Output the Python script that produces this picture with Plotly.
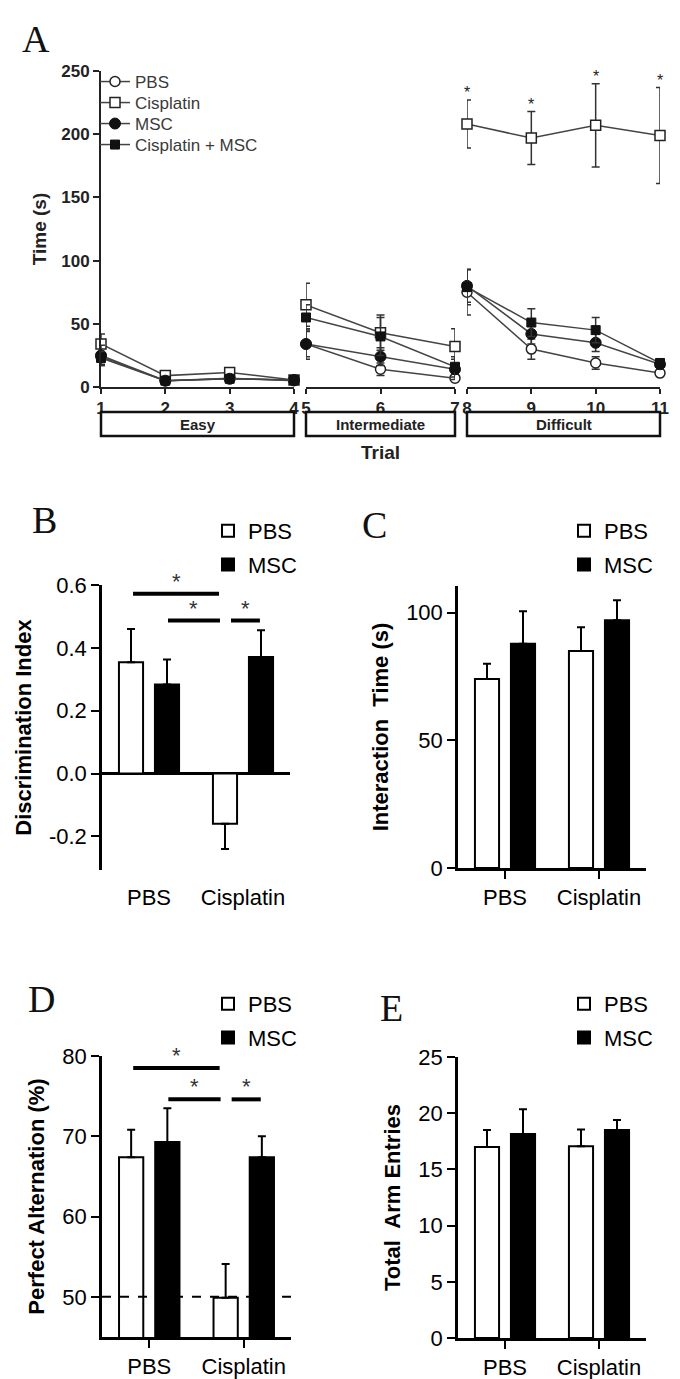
import plotly.graph_objects as go

W, H = 680, 1379


def fx(px):
    return px / W


def fy(py):
    return 1 - py / H


SANS = "Liberation Sans, Arial, sans-serif"
SERIF = "Liberation Serif, Times New Roman, serif"

# ---------------- Panel A data ----------------
trials = [1, 2, 3, 4, 5, 6, 7, 8, 9, 10, 11]
segment_trials = [[1, 2, 3, 4], [5, 6, 7], [8, 9, 10, 11]]
segment_names = ["Easy", "Intermediate", "Difficult"]
pbs_time = [24, 5, 7, 5, 34, 14, 7, 75, 30, 19, 11]
pbs_sem = [7, 2, 2, 1, 10, 5, 2, 18, 8, 5, 2]
cis_time = [34, 9, 11.5, 5.5, 65, 43, 32, 208, 197, 207, 199]
cis_sem = [8, 2, 2, 1, 17, 14, 14, 19, 21, 33, 38]
msc_time = [25, 5, 6.5, 5.5, 34, 24, 14, 80, 42, 35, 18]
msc_sem = [8, 1.5, 2, 1, 12, 7, 8, 13, 8, 7, 3]
cismsc_time = [23, 5, 6.5, 5.5, 55, 40, 16, 79, 51, 45, 19]
cismsc_sem = [5, 1.5, 2, 1, 10, 15, 8, 14, 11, 10, 3]
star_trials = [8, 9, 10, 11]
a_yticks = [0, 50, 100, 150, 200, 250]
a_ymax = 250

# ---------------- Bar panels data ----------------
groups = ["PBS", "Cisplatin"]
disc_pbs = [0.354, -0.16]
disc_pbs_sem = [0.106, 0.08]
disc_msc = [0.283, 0.371]
disc_msc_sem = [0.08, 0.085]
b_ticks = [-0.2, 0.0, 0.2, 0.4, 0.6]
b_ticktext = ["-0.2", "0.0", "0.2", "0.4", "0.6"]

inter_pbs = [74.0, 85.0]
inter_pbs_sem = [6.0, 9.3]
inter_msc = [87.8, 97.0]
inter_msc_sem = [12.7, 7.8]

alt_pbs = [67.4, 49.9]
alt_pbs_sem = [3.4, 4.2]
alt_msc = [69.3, 67.4]
alt_msc_sem = [4.2, 2.6]
chance_level = 50

arm_pbs = [17.0, 17.05]
arm_pbs_sem = [1.5, 1.5]
arm_msc = [18.15, 18.5]
arm_msc_sem = [2.2, 0.9]

fig = go.Figure()

# ---------------- Panel A traces ----------------
series_A = [
    ("PBS", pbs_time, pbs_sem,
     dict(symbol="circle", color="white", size=10, line=dict(color="#222", width=1.5)), "legend"),
    ("Cisplatin", cis_time, cis_sem,
     dict(symbol="square", color="white", size=10, line=dict(color="#222", width=1.5)), "legend6"),
    ("MSC", msc_time, msc_sem,
     dict(symbol="circle", color="#111", size=11, line=dict(color="#111", width=1)), "legend7"),
    ("Cisplatin + MSC", cismsc_time, cismsc_sem,
     dict(symbol="square", color="#111", size=9, line=dict(color="#111", width=1)), "legend8"),
]
seg_axes = ["x", "x2", "x3"]
for si, seg in enumerate(segment_trials):
    idx = [trials.index(t) for t in seg]
    for name, vals, sems, mk, leg in series_A:
        fig.add_trace(go.Scatter(
            x=seg, y=[vals[i] for i in idx],
            error_y=dict(type="data", array=[sems[i] for i in idx], color="#333",
                         thickness=1.5, width=4),
            mode="lines+markers", line=dict(color="#444", width=1.5), marker=mk,
            name=name, legendgroup=name, showlegend=(si == 0), legend=leg,
            xaxis=seg_axes[si], yaxis="y", cliponaxis=False))


# ---------------- Bar traces ----------------
def add_bars(xa, ya, leg, pbs, pbs_e, msc, msc_e):
    for name, vals, errs, fill in [("PBS", pbs, pbs_e, "white"), ("MSC", msc, msc_e, "black")]:
        up = [e if v >= 0 else 0 for v, e in zip(vals, errs)]
        dn = [0 if v >= 0 else e for v, e in zip(vals, errs)]
        fig.add_trace(go.Bar(
            x=groups, y=vals, name=name,
            marker=dict(color=fill, line=dict(color="black", width=2)),
            error_y=dict(type="data", symmetric=False, array=up, arrayminus=dn,
                         color="black", thickness=2, width=4),
            xaxis=xa, yaxis=ya, legend=leg, legendgroup=leg + name))


add_bars("x4", "y2", "legend2", disc_pbs, disc_pbs_sem, disc_msc, disc_msc_sem)
add_bars("x5", "y3", "legend3", inter_pbs, inter_pbs_sem, inter_msc, inter_msc_sem)
add_bars("x6", "y4", "legend4", alt_pbs, alt_pbs_sem, alt_msc, alt_msc_sem)
add_bars("x7", "y5", "legend5", arm_pbs, arm_pbs_sem, arm_msc, arm_msc_sem)

# ---------------- Axes ----------------
boldA = dict(family=SANS, size=17, color="#222", weight="bold")
segx = dict(showgrid=False, zeroline=False, showline=True, linecolor="#222", linewidth=2,
            ticks="outside", ticklen=5, tickwidth=1.5, tickcolor="#222", tickfont=boldA,
            anchor="y", automargin=False)
barx = dict(type="category", showgrid=False, zeroline=False, showline=True, linecolor="black",
            linewidth=2.5, ticks="outside", ticklen=8, tickwidth=2, tickcolor="black",
            tickfont=dict(family=SANS, size=22, color="black"), range=[-0.5, 1.5],
            categoryorder="array", categoryarray=groups, automargin=False)
bary = dict(showgrid=False, zeroline=False, showline=True, linecolor="black", linewidth=2.5,
            ticks="outside", ticklen=8, tickwidth=2, tickcolor="black", automargin=False,
            tickfont=dict(family=SANS, size=22, color="black"),
            title=dict(font=dict(family=SANS, size=22, color="black", weight="bold"), standoff=12))

layout = dict(
    width=W, height=H, margin=dict(l=0, r=0, t=0, b=0, autoexpand=False),
    paper_bgcolor="white", plot_bgcolor="white",
    barmode="group", bargap=0.234, bargroupgap=0.33,
    showlegend=True,
    xaxis=dict(segx, domain=[fx(93), fx(286)], range=[1, 4], tickvals=segment_trials[0]),
    xaxis2=dict(segx, domain=[fx(298), fx(447)], range=[5, 7], tickvals=segment_trials[1],
                title=dict(text="Trial", font=dict(family=SANS, size=19, color="#222", weight="bold"),
                           standoff=28)),
    xaxis3=dict(segx, domain=[fx(459), fx(652)], range=[8, 11], tickvals=segment_trials[2]),
    yaxis=dict(domain=[fy(379), fy(63)], range=[0, a_ymax], tickvals=a_yticks, anchor="x",
               showgrid=False, zeroline=False, showline=True, linecolor="#222", linewidth=2,
               ticks="outside", ticklen=6, tickwidth=2, tickcolor="#222", tickfont=boldA,
               automargin=False,
               title=dict(text="Time (s)", font=dict(family=SANS, size=19, color="#222", weight="bold"),
                          standoff=10)),
    xaxis4=dict(barx, domain=[fx(94), fx(282)], anchor="y2", showline=False,
                tickcolor="rgba(0,0,0,0)"),
    yaxis2=dict(bary, domain=[fy(862), fy(577)], range=[-0.307, 0.6], anchor="x4",
                tickvals=b_ticks, ticktext=b_ticktext, zeroline=True, zerolinecolor="black",
                zerolinewidth=2.5, title=dict(bary["title"], text="Discrimination Index")),
    xaxis5=dict(barx, domain=[fx(450), fx(638)], anchor="y3"),
    yaxis3=dict(bary, domain=[fy(860), fy(578)], range=[0, 110.4], anchor="x5",
                tickvals=[0, 50, 100], title=dict(bary["title"], text="Interaction\u00a0 Time (s)")),
    xaxis6=dict(barx, domain=[fx(94), fx(283)], anchor="y4"),
    yaxis4=dict(bary, domain=[fy(1329), fy(1048)], range=[45, 80], anchor="x6",
                tickvals=[50, 60, 70, 80], title=dict(bary["title"], text="Perfect Alternation (%)")),
    xaxis7=dict(barx, domain=[fx(450), fx(638)], anchor="y5"),
    yaxis5=dict(bary, domain=[fy(1330), fy(1049)], range=[0, 25], anchor="x7",
                tickvals=[0, 5, 10, 15, 20, 25], title=dict(bary["title"], text="Total\u00a0 Arm Entries")),
)
# one single-entry legend per row in panel A (tight row spacing as in the reference)
for k, ly in zip(["legend", "legend6", "legend7", "legend8"], [74, 95, 116, 137]):
    layout[k] = dict(x=fx(87), y=fy(ly), xanchor="left", yanchor="middle", bgcolor="rgba(0,0,0,0)",
                     font=dict(family=SANS, size=17, color="#3a3a3a"), itemwidth=30)
for k, (lx, ly) in zip(["legend2", "legend3", "legend4", "legend5"],
                       [(200, 502), (556, 502), (200, 975), (556, 975)]):
    layout[k] = dict(x=fx(lx), y=fy(ly), xanchor="left", yanchor="top", bgcolor="rgba(0,0,0,0)",
                     font=dict(family=SANS, size=22, color="black"), tracegroupgap=2,
                     traceorder="grouped")
fig.update_layout(**layout)

# ---------------- Decorations ----------------
# panel letters
for letter, px, py in [("A", 28, 31), ("B", 36, 512), ("C", 366, 517), ("D", 33, 991), ("E", 383, 1000)]:
    fig.add_annotation(text=letter, x=fx(px), y=fy(py), xref="paper", yref="paper",
                       showarrow=False, xanchor="center", yanchor="middle",
                       font=dict(family=SERIF, size=38, color="#111"))

# difficulty boxes in panel A
for ax, name in zip(seg_axes, segment_names):
    fig.add_shape(type="rect", xref=ax + " domain", yref="paper", x0=0, x1=1,
                  y0=fy(428), y1=fy(404), line=dict(color="#111", width=2.5),
                  fillcolor="white")
    fig.add_annotation(text=name, xref=ax + " domain", yref="paper", x=0.5, y=fy(416),
                       xanchor="center", yanchor="middle", showarrow=False,
                       font=dict(family=SANS, size=15, color="#222", weight="bold"))

# significance stars over cisplatin in the difficult trials (domain fraction so they may exceed the range)
for t in star_trials:
    i = trials.index(t)
    fig.add_annotation(text="*", x=t, y=(cis_time[i] + cis_sem[i] + 14) / a_ymax,
                       xref="x3", yref="y domain", showarrow=False,
                       font=dict(family=SANS, size=16, color="#222"))

# significance brackets for panels B and D
for xa, ya, y_long, y_short in [("x4", "y2", 0.572, 0.487), ("x6", "y4", 78.5, 74.6)]:
    for x0, x1, yy in [(-0.17, 0.745, y_long), (0.202, 0.755, y_short), (0.872, 1.18, y_short)]:
        fig.add_shape(type="line", xref=xa, yref=ya, x0=x0, x1=x1, y0=yy, y1=yy,
                      line=dict(color="black", width=4))
        fig.add_annotation(text="*", x=(x0 + x1) / 2, y=yy, xref=xa, yref=ya, showarrow=False,
                           yanchor="bottom", yshift=-2,
                           font=dict(family=SANS, size=22, color="#333"))

# chance level line in panel D
fig.add_shape(type="line", xref="x6", yref="y4", x0=-0.5, x1=1.5, y0=chance_level, y1=chance_level,
              line=dict(color="black", width=2, dash="dash"), layer="above")

fig.write_html("out.html")
